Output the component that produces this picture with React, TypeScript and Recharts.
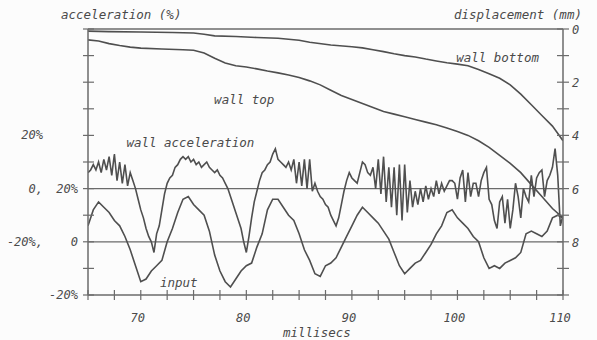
import React from 'react';
import { ComposedChart, Line, XAxis, YAxis, ReferenceLine, ReferenceDot } from 'recharts';

// time axis (ms) and sampling of the two acceleration traces
const MS_START = 65;
const ACC_STEP = 0.25;
const INPUT_STEP = 0.5;

// wall acceleration (%), every 0.25 ms from 65 to 110
const wallAcceleration = [
  6, 7, 9, 7, 10, 6, 11, 7, 12, 5, 13, 3, 10, 2, 9, 1,
  6, 3, 0, -4, -8, -11, -15, -18, -20, -24, -17, -14, -8, -2, 2, 4,
  5, 8, 9, 11, 12, 11, 12, 10, 11, 9, 10, 8, 9, 10, 8, 7,
  6, 7, 5, 4, 2, 0, -3, -6, -9, -12, -15, -20, -24, -18, -11, -5,
  -1, 3, 6, 7, 9, 10, 13, 15, 11, 10, 9, 8, 10, 7, 11, 2,
  10, 1, 11, 0, 11, -1, 2, -1, -3, -4, -6, -7, -10, -12, -14, -11,
  -6, -1, 3, 6, 4, 3, 2, 6, 10, 9, 6, 5, 8, 0, 11, -2,
  12, -5, 8, -7, 8, -10, 9, -12, 9, -9, 3, -7, -1, -6, 0, -5,
  1, -4, 0, -3, 3, -2, 2, -1, 1, 3, 3, 2, -4, 4, 7, -5,
  6, -3, 2, 2, -3, 3, 6, 8, -4, -6, -12, -15, -5, -3, -13, -4,
  -15, -8, 2, -3, -11, 0, -3, -5, 5, -3, 4, 6, 7, -3, 3, 5,
  8, 15, 5, -14, -10,
];

// input acceleration (%), every 0.5 ms from 65 to 110
const inputAcceleration = [
  6, 12, 15, 13, 11, 8, 6, 2, -3, -9,
  -15, -14, -11, -9, -7, 0, 5, 11, 16, 17,
  14, 12, 10, 4, -5, -11, -15, -17, -14, -11,
  -9, -8, -2, 3, 12, 16, 16, 13, 10, 8,
  3, -3, -7, -12, -13, -9, -8, -6, -2, 2,
  6, 10, 13, 11, 9, 7, 4, 1, -4, -9,
  -12, -10, -8, -7, -4, -1, 3, 6, 11, 12,
  9, 7, 5, 2, 0, -6, -10, -9, -10, -8,
  -7, -6, -4, 3, 4, 3, 2, 4, 9, 10,
  9,
];

// displacement (mm)
const wallTopMs = [65, 66, 67, 68, 69, 70, 72, 74, 75, 76, 77, 78, 79, 80, 81, 82, 83, 84, 85, 86, 87, 88, 89, 90, 91, 92, 93, 94, 95, 96, 97, 98, 99, 100, 101, 102, 103, 104, 105, 106, 107, 108, 109, 110];
const wallTopMm = [0.41, 0.45, 0.55, 0.62, 0.68, 0.72, 0.75, 0.78, 0.8, 0.9, 1.1, 1.28, 1.38, 1.43, 1.5, 1.58, 1.65, 1.73, 1.82, 1.95, 2.1, 2.3, 2.5, 2.65, 2.8, 2.95, 3.1, 3.2, 3.3, 3.4, 3.5, 3.6, 3.72, 3.85, 4.0, 4.2, 4.45, 4.75, 5.05, 5.4, 5.85, 6.3, 6.75, 7.1];

const wallBottomMs = [65, 67, 70, 73, 75, 76, 77, 79, 81, 83, 85, 86, 88, 90, 91, 92, 93, 94, 95, 96, 97, 98, 99, 100, 101, 102, 103, 104, 105, 106, 107, 108, 109, 110];
const wallBottomMm = [0.08, 0.1, 0.11, 0.13, 0.15, 0.2, 0.26, 0.28, 0.32, 0.35, 0.42, 0.5, 0.6, 0.67, 0.71, 0.78, 0.85, 0.93, 1.0, 1.05, 1.13, 1.2, 1.27, 1.32, 1.38, 1.52, 1.68, 1.85, 2.1, 2.45, 2.85, 3.25, 3.65, 4.2];

// axes
const MS_DOMAIN = [65, 110];
const ACC_DOMAIN = [-40, 60];
const INPUT_DOMAIN = [-20, 80];
const DISP_DOMAIN = [0, 10];

const msTicks = [65, 67.5, 70, 72.5, 75, 77.5, 80, 82.5, 85, 87.5, 90, 92.5, 95, 97.5, 100, 102.5, 105, 107.5, 110];
const msLabels = [70, 80, 90, 100, 110];
const dispTicks = [0, 1, 2, 3, 4, 5, 6, 7, 8, 9, 10];
const dispLabels = [0, 2, 4, 6, 8];
const accTicks = [20, 0, -20];
const accTickLabels = ['20%', '0,', '-20%,'];
const inputTicks = [-20, -10, 0, 10, 20, 30, 40, 50, 60, 70, 80];
const inputLabelled = [20, 0, -20];
const inputTickLabels = ['20%', '0', '-20%'];

// y axis ids: the input axis sits next to the plot, wall acceleration labels outside it
const INPUT_AXIS = 'aInput';
const ACC_AXIS = 'wallAcc';

const FONT = '"DejaVu Sans Mono", monospace';
const INK = '#4f4f4f';
const AXIS = '#6b6b6b';
const TEXT = '#4a4a4a';

const accData = wallAcceleration.map((v, i) => ({ t: MS_START + i * ACC_STEP, v }));
const inputData = inputAcceleration.map((v, i) => ({ t: MS_START + i * INPUT_STEP, v }));
const wallTopData = wallTopMs.map((t, i) => ({ t, v: wallTopMm[i] }));
const wallBottomData = wallBottomMs.map((t, i) => ({ t, v: wallBottomMm[i] }));

const textStyle = { fill: TEXT, fontSize: 12, fontFamily: FONT, fontStyle: 'italic' as const };

const BottomTick = ({ x, y, payload }: any) => (
  <g>
    <line x1={x} x2={x} y1={y - 5} y2={y + 5} stroke={AXIS} strokeWidth={1.2} />
    {msLabels.includes(payload.value) && (
      <text x={x - 3} y={y + 27} textAnchor="middle" {...textStyle}>{payload.value}</text>
    )}
  </g>
);

const TopTick = ({ x, y }: any) => (
  <line x1={x} x2={x} y1={y - 4} y2={y + 4} stroke={AXIS} strokeWidth={1.2} />
);

const InputTick = ({ x, y, payload }: any) => {
  const idx = inputLabelled.indexOf(payload.value);
  return (
    <g>
      <line x1={x - 5} x2={x + 6} y1={y} y2={y} stroke={AXIS} strokeWidth={1.2} />
      {idx >= 0 && (
        <text x={x - 10} y={y + 4} textAnchor="end" {...textStyle}>{inputTickLabels[idx]}</text>
      )}
    </g>
  );
};

const AccTick = ({ x, y, payload }: any) => {
  const idx = accTicks.indexOf(payload.value);
  return (
    <text x={x - 1} y={y + 4} textAnchor="end" {...textStyle}>{idx >= 0 ? accTickLabels[idx] : ''}</text>
  );
};

const DispTick = ({ x, y, payload }: any) => (
  <g>
    <line x1={x - 6} x2={x + 6} y1={y} y2={y} stroke={AXIS} strokeWidth={1.2} />
    {dispLabels.includes(payload.value) && (
      <text x={x + 9} y={y + 5} textAnchor="start" {...textStyle}>{payload.value}</text>
    )}
  </g>
);

const titleStyle: React.CSSProperties = {
  position: 'absolute',
  fontFamily: FONT,
  fontStyle: 'italic',
  fontSize: 12.5,
  lineHeight: '16px',
  color: TEXT,
  whiteSpace: 'pre',
};

const dotLabel = (value: string) => ({ value, position: 'center' as const, ...textStyle, fontSize: 12.5 });

export default function App() {
  return (
    <div style={{ position: 'absolute', left: 0, top: 0, width: 597, height: 340, background: '#fcfcfc' }}>
      <ComposedChart width={597} height={340} margin={{ top: 0, right: 0, bottom: 0, left: 0 }}>
        <XAxis
          xAxisId="ms" dataKey="t" type="number" domain={MS_DOMAIN} ticks={msTicks} interval={0}
          allowDataOverflow height={45} tickSize={0} tickMargin={0}
          axisLine={{ stroke: AXIS, strokeWidth: 1.5 }} tick={<BottomTick />}
        />
        <XAxis
          xAxisId="top" orientation="top" type="number" domain={MS_DOMAIN} ticks={msTicks} interval={0}
          allowDataOverflow height={29} tickSize={0} tickMargin={0}
          axisLine={{ stroke: AXIS, strokeWidth: 1.5 }} tick={<TopTick />}
        />
        <YAxis
          yAxisId={INPUT_AXIS} type="number" domain={INPUT_DOMAIN} ticks={inputTicks} interval={0}
          allowDataOverflow width={44} tickSize={0} tickMargin={0}
          axisLine={{ stroke: AXIS, strokeWidth: 1.5 }} tick={<InputTick />}
        />
        <YAxis
          yAxisId={ACC_AXIS} type="number" domain={ACC_DOMAIN} ticks={accTicks} interval={0}
          allowDataOverflow width={44} tickSize={0} tickMargin={0}
          axisLine={false} tick={<AccTick />}
        />
        <YAxis
          yAxisId="disp" orientation="right" type="number" domain={DISP_DOMAIN} reversed ticks={dispTicks} interval={0}
          allowDataOverflow width={34} tickSize={0} tickMargin={0}
          axisLine={{ stroke: AXIS, strokeWidth: 1.5 }} tick={<DispTick />}
        />

        <ReferenceLine xAxisId="ms" yAxisId={ACC_AXIS} y={0} stroke={AXIS} strokeWidth={1.3} />
        <ReferenceLine xAxisId="ms" yAxisId={INPUT_AXIS} y={0} stroke={AXIS} strokeWidth={1.3} />

        <Line data={wallBottomData} dataKey="v" xAxisId="ms" yAxisId="disp" type="linear" stroke={INK} strokeWidth={1.6} dot={false} isAnimationActive={false} />
        <Line data={wallTopData} dataKey="v" xAxisId="ms" yAxisId="disp" type="linear" stroke={INK} strokeWidth={1.6} dot={false} isAnimationActive={false} />
        <Line data={accData} dataKey="v" xAxisId="ms" yAxisId={ACC_AXIS} type="linear" stroke={INK} strokeWidth={1.6} dot={false} isAnimationActive={false} />
        <Line data={inputData} dataKey="v" xAxisId="ms" yAxisId={INPUT_AXIS} type="linear" stroke={INK} strokeWidth={1.6} dot={false} isAnimationActive={false} />

        <ReferenceDot xAxisId="ms" yAxisId="disp" x={103.8} y={1.09} r={0} fill="none" stroke="none" label={dotLabel('wall bottom')} />
        <ReferenceDot xAxisId="ms" yAxisId="disp" x={79.8} y={2.67} r={0} fill="none" stroke="none" label={dotLabel('wall top')} />
        <ReferenceDot xAxisId="ms" yAxisId={ACC_AXIS} x={74.7} y={17.3} r={0} fill="none" stroke="none" label={dotLabel('wall acceleration')} />
        <ReferenceDot xAxisId="ms" yAxisId={INPUT_AXIS} x={73.6} y={-15.4} r={0} fill="none" stroke="none" label={dotLabel('input')} />
      </ComposedChart>
      <div style={{ ...titleStyle, left: 61, top: 7 }}>acceleration (%)</div>
      <div style={{ ...titleStyle, left: 454, top: 7 }}>displacement (mm)</div>
      <div style={{ ...titleStyle, left: 283, top: 325 }}>millisecs</div>
    </div>
  );
}
